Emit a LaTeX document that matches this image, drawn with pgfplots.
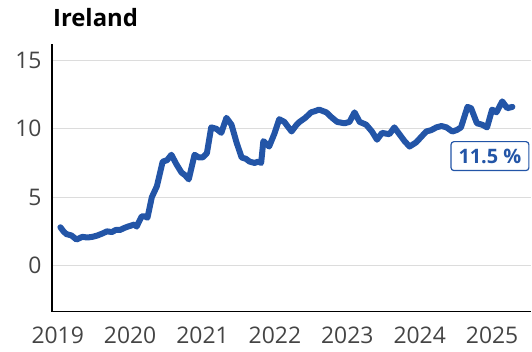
\documentclass[border=0pt]{standalone}
\usepackage{fontspec}
\setmainfont{Open Sans}
\usepackage{pgfplots}
\pgfplotsset{compat=1.18}
\definecolor{lineblue}{HTML}{2355A7}
\definecolor{ticktext}{HTML}{444444}
\definecolor{gridgray}{HTML}{DCDCDC}
\begin{document}
\begin{tikzpicture}
\begin{axis}[
  at={(0,0)}, anchor=south west,
  scale only axis,
  width=480bp, height=268bp,
  xmin=2018.92, xmax=2025.54,
  ymin=-3.36, ymax=16.2,
  axis x line*=bottom, axis y line*=left,
  axis line style={black, line width=1.6bp, -},
  xtick={2019,2020,2021,2022,2023,2024,2025},
  xticklabels={2019,2020,2021,2022,2023,2024,2025},
  ytick={0,5,10,15},
  major tick length=0pt,
  ymajorgrids,
  grid style={gridgray, line width=1.2bp},
  tick label style={font=\fontsize{23}{23}\selectfont, text=ticktext},
  /pgf/number format/assume math mode=true,
  xticklabel style={yshift=-12bp},
  yticklabel style={xshift=-7bp},
  clip=false,
]
\addplot[lineblue, line width=6bp, line join=round, line cap=round] coordinates {
(2019.037,2.8) (2019.08,2.5) (2019.12,2.3) (2019.19,2.2) (2019.26,1.9) (2019.34,2.1)
(2019.41,2.05) (2019.48,2.1) (2019.55,2.2) (2019.62,2.35) (2019.68,2.5) (2019.75,2.45)
(2019.80,2.6) (2019.86,2.6) (2019.92,2.75) (2019.97,2.85) (2020.06,3.0) (2020.09,2.85)
(2020.16,3.6) (2020.20,3.6) (2020.24,3.5) (2020.30,5.0) (2020.37,5.8) (2020.45,7.6)
(2020.51,7.7) (2020.57,8.1) (2020.64,7.4) (2020.71,6.8) (2020.76,6.6) (2020.81,6.3)
(2020.89,8.1) (2020.95,7.9) (2021.00,7.9) (2021.06,8.2) (2021.12,10.1) (2021.19,10.0)
(2021.26,9.7) (2021.33,10.8) (2021.40,10.3) (2021.47,9.0) (2021.54,7.9) (2021.60,7.8)
(2021.65,7.6) (2021.72,7.5) (2021.77,7.6) (2021.81,7.5) (2021.84,9.1) (2021.92,8.7)
(2021.99,9.6) (2022.06,10.7) (2022.13,10.5) (2022.23,9.8) (2022.30,10.3) (2022.34,10.5)
(2022.42,10.8) (2022.50,11.2) (2022.56,11.3) (2022.61,11.4) (2022.66,11.3) (2022.71,11.2)
(2022.79,10.8) (2022.86,10.5) (2022.96,10.4) (2023.03,10.5) (2023.10,11.2) (2023.17,10.5)
(2023.26,10.3) (2023.34,9.8) (2023.41,9.2) (2023.48,9.7) (2023.58,9.6) (2023.65,10.1)
(2023.72,9.6) (2023.79,9.1) (2023.86,8.7) (2023.95,9.0) (2024.02,9.4) (2024.09,9.8)
(2024.16,9.9) (2024.23,10.1) (2024.30,10.2) (2024.37,10.1) (2024.45,9.8) (2024.51,9.9)
(2024.57,10.1) (2024.66,11.6) (2024.71,11.5) (2024.79,10.4) (2024.86,10.3) (2024.93,10.1)
(2025.00,11.4) (2025.06,11.2) (2025.14,12.0) (2025.21,11.5) (2025.28,11.6)
};
\node[draw=lineblue, line width=1.2bp, rounded corners=3bp, fill=white,
  minimum width=78bp, minimum height=29bp, inner sep=0pt,
  text=lineblue, font=\bfseries\fontsize{20}{20}\selectfont]
  at (axis cs:2024.97,8.0) {11.5 \%};
\end{axis}
\node[anchor=base west, inner sep=0pt, font=\bfseries\fontsize{24}{24}\selectfont]
  at (1bp,285bp) {Ireland};
\useasboundingbox (-52bp,-40bp) rectangle (480bp,312bp);
\end{tikzpicture}
\end{document}
